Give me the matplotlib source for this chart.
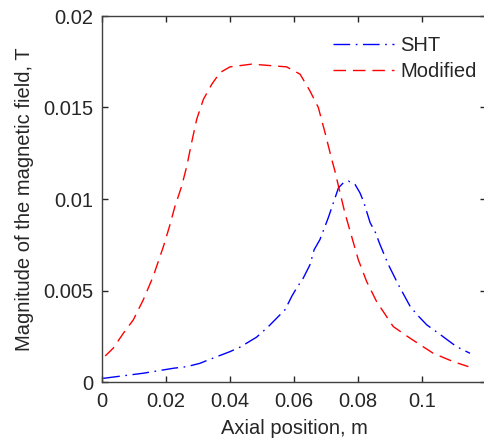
import matplotlib
matplotlib.use("Agg")
import matplotlib.pyplot as plt

# Axial position (m) and field magnitude (T)
x_mod = [0.0010, 0.0035, 0.0067, 0.0098, 0.0129, 0.0160, 0.0192, 0.0210,
         0.0228, 0.0249, 0.0265, 0.0280, 0.0296, 0.0317, 0.0343, 0.0369,
         0.0400, 0.0468, 0.0577, 0.0619, 0.0650, 0.0676, 0.0697, 0.0718,
         0.0728, 0.0739, 0.0759, 0.0780, 0.0801, 0.0827, 0.0858, 0.0910,
         0.0963, 0.1035, 0.1098, 0.1145]
y_mod = [0.00142, 0.00185, 0.00267, 0.00340, 0.00449, 0.00577, 0.00741, 0.00845,
         0.00960, 0.01070, 0.01180, 0.01308, 0.01436, 0.01545, 0.01627, 0.01691,
         0.01722, 0.01737, 0.01722, 0.01682, 0.01590, 0.01500, 0.01362, 0.01216,
         0.01152, 0.01070, 0.00924, 0.00796, 0.00668, 0.00549, 0.00440, 0.00303,
         0.00239, 0.00157, 0.00111, 0.00084]

x_sht = [0.0004, 0.0129, 0.0223, 0.0265, 0.0306, 0.0327, 0.0400, 0.0431,
         0.0483, 0.0520, 0.0546, 0.0572, 0.0593, 0.0608, 0.0629, 0.0650,
         0.0663, 0.0681, 0.0707, 0.0723, 0.0739, 0.0755, 0.0770, 0.0791,
         0.0806, 0.0817, 0.0838, 0.0853, 0.0869, 0.0895, 0.0926, 0.0963,
         0.0985, 0.1015, 0.1051, 0.1108, 0.1150]
y_sht = [0.00020, 0.00048, 0.00075, 0.00084, 0.00102, 0.00117, 0.00166, 0.00190,
         0.00245, 0.00303, 0.00349, 0.00395, 0.00468, 0.00513, 0.00568, 0.00641,
         0.00723, 0.00778, 0.00897, 0.00979, 0.01061, 0.01090, 0.01098, 0.01079,
         0.01034, 0.00988, 0.00870, 0.00823, 0.00750, 0.00641, 0.00532, 0.00413,
         0.00367, 0.00312, 0.00267, 0.00193, 0.00157]

x_ticks = [0, 0.02, 0.04, 0.06, 0.08, 0.1]
x_labels = ["0", "0.02", "0.04", "0.06", "0.08", "0.1"]
y_ticks = [0, 0.005, 0.01, 0.015, 0.02]
y_labels = ["0", "0.005", "0.01", "0.015", "0.02"]

plt.rcParams["font.family"] = ["Liberation Sans", "DejaVu Sans"]

fig = plt.figure(figsize=(4.84, 4.40), dpi=100)
ax = fig.add_axes([102 / 484, 58 / 440, 384 / 484, 366 / 440])

ax.plot(x_sht, y_sht, color="#0000ff", lw=1.0, dashes=(12, 4, 1.2, 4), label="SHT")
ax.plot(x_mod, y_mod, color="#ff0000", lw=1.0, dashes=(9, 5), label="Modified")

ax.set_xlim(0, 0.12)
ax.set_ylim(0, 0.02)
ax.set_xticks(x_ticks)
ax.set_xticklabels(x_labels)
ax.set_yticks(y_ticks)
ax.set_yticklabels(y_labels)
ax.tick_params(direction="in", top=True, right=True, length=4, width=1,
               labelsize=14.5, colors="#262626")
ax.tick_params(axis="x", pad=7)
ax.tick_params(axis="y", pad=6)
for sp in ax.spines.values():
    sp.set_color("#404040")
    sp.set_linewidth(1.0)

ax.set_xlabel("Axial position, m", fontsize=14.5, color="#262626", labelpad=6)
ax.set_ylabel("Magnitude of the magnetic field, T", fontsize=14.5, color="#262626", labelpad=7)

leg = ax.legend(loc="upper right", bbox_to_anchor=(1.022, 0.995), frameon=False,
                fontsize=14.5, handlelength=3.0, handletextpad=0.3, labelspacing=0.35)
for t in leg.get_texts():
    t.set_color("#262626")

fig.savefig("out.png", dpi=100)
